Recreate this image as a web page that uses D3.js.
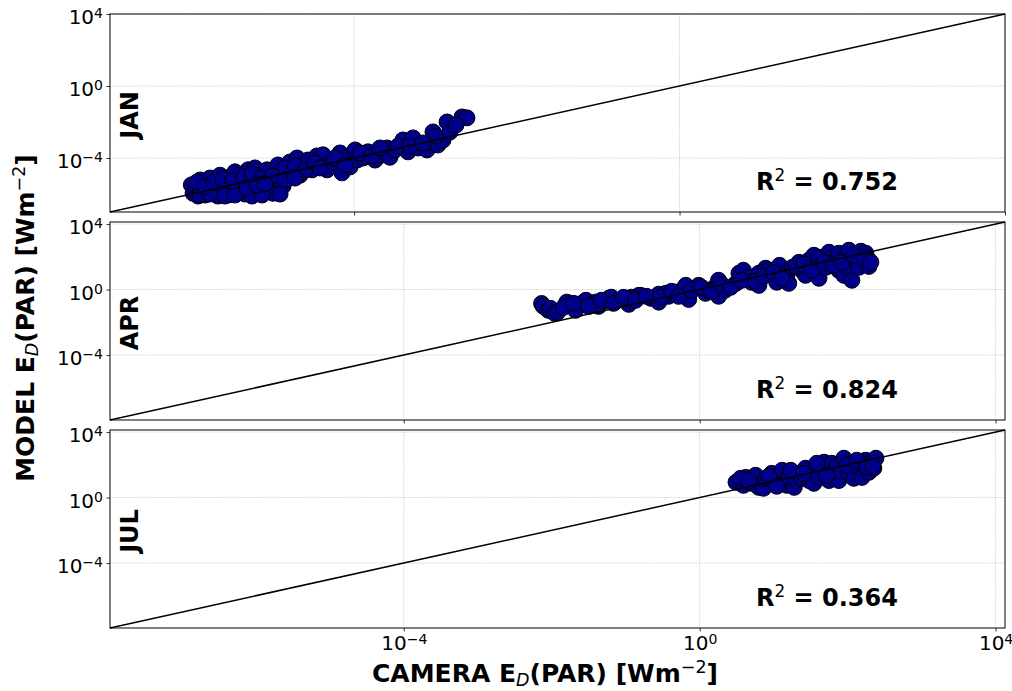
<!DOCTYPE html>
<html>
<head>
<meta charset="utf-8">
<script src="https://cdn.jsdelivr.net/npm/d3@7/dist/d3.min.js"></script>
<style>
  body { margin: 0; background: #ffffff; }
  svg text { font-family: "DejaVu Sans", sans-serif; }
</style>
</head>
<body>
<svg id="chart" width="1012" height="691"></svg>
<script>
// ---- data -------------------------------------------------------------
const months = ["JAN", "APR", "JUL"];
const rSquared = [0.752, 0.824, 0.364];
const tickValues = [1e-4, 1, 1e4];

// January: camera vs model downwelling PAR (W m^-2)
const janCamera = [
  1.0e-6, 1.05e-6, 1.14e-6, 1.21e-6, 1.28e-6, 1.39e-6, 1.47e-6, 1.56e-6, 1.69e-6, 1.79e-6,
  1.95e-6, 2.12e-6, 2.25e-6, 2.38e-6, 2.59e-6, 2.82e-6, 2.99e-6, 3.16e-6, 3.44e-6, 3.74e-6,
  3.96e-6, 4.19e-6, 4.56e-6, 4.97e-6, 5.26e-6, 5.73e-6, 6.05e-6, 6.59e-6, 6.98e-6, 7.60e-6,
  8.51e-6, 8.75e-6, 9.27e-6, 1.01e-5, 1.07e-5, 1.16e-5, 1.23e-5, 1.34e-5, 1.50e-5, 1.63e-5,
  1.77e-5, 1.99e-5, 2.16e-5, 2.36e-5, 2.72e-5, 3.04e-5, 3.50e-5, 4.15e-5, 4.65e-5, 5.36e-5,
  6.71e-5, 7.11e-5, 8.18e-5, 8.91e-5, 1.03e-4, 1.09e-4, 1.29e-4, 1.48e-4, 1.81e-4, 2.26e-4,
  2.54e-4, 2.76e-4, 3.18e-4, 3.99e-4, 4.60e-4, 5.30e-4, 6.11e-4, 7.87e-4, 8.57e-4, 9.33e-4,
  1.07e-3, 1.24e-3, 1.39e-3, 2.12e-3, 2.44e-3, 1.28e-6, 1.69e-6, 2.59e-6, 3.44e-6, 5.56e-6,
  7.38e-6, 1.23e-5, 1.17e-6, 1.47e-6, 1.90e-6, 2.45e-6, 3.25e-6, 4.44e-6, 5.56e-6, 7.38e-6,
  9.79e-6, 1.42e-5, 1.88e-5, 2.50e-5, 3.31e-5, 3.81e-5, 5.82e-5, 7.73e-5, 1.18e-4, 1.66e-4,
  2.08e-4, 3.47e-4, 4.86e-4, 7.03e-4, 1.02e-3, 1.51e-3, 1.79e-3, 4.83e-6, 6.41e-6, 8.04e-6,
  1.42e-5, 1.88e-5
];
const janModel = [
  3.2e-6, 1.1e-6, 2.2e-6, 7.7e-7, 6.0e-6, 1.7e-6, 8.8e-7, 3.6e-6, 7.7e-6, 1.3e-6,
  2.5e-6, 7.7e-7, 1.1e-5, 4.1e-6, 1.7e-6, 8.8e-7, 8.8e-6, 2.8e-6, 1.7e-5, 1.7e-6,
  1.1e-5, 5.3e-6, 1.0e-6, 2.2e-5, 2.8e-6, 7.7e-6, 2.8e-5, 1.3e-6, 4.6e-6, 1.3e-5,
  2.2e-5, 2.2e-6, 1.7e-6, 1.1e-6, 6.0e-6, 4.1e-5, 1.7e-5, 2.8e-6, 1.0e-5, 6.0e-5,
  2.2e-5, 1.0e-4, 1.1e-5, 4.1e-5, 7.7e-5, 2.2e-5, 1.3e-4, 1.5e-4, 2.2e-5, 6.0e-5,
  1.9e-4, 1.5e-5, 1.0e-4, 3.2e-5, 2.8e-4, 7.7e-5, 1.0e-4, 2.2e-4, 7.7e-5, 1.5e-4,
  3.6e-4, 1.1e-4, 2.8e-4, 1.0e-3, 2.2e-4, 1.3e-3, 3.6e-4, 2.8e-4, 7.7e-4, 2.8e-3,
  5.3e-4, 1.0e-3, 1.0e-2, 1.9e-2, 1.7e-2, 8.8e-7, 1.0e-6, 7.7e-7, 8.8e-7, 7.7e-7,
  8.8e-7, 1.0e-6, 4.6e-6, 2.5e-6, 4.6e-6, 6.8e-6, 5.3e-6, 8.8e-6, 1.3e-5, 7.7e-6,
  1.0e-5, 2.8e-5, 3.6e-5, 2.2e-5, 5.3e-5, 2.8e-5, 1.0e-4, 4.1e-5, 1.9e-4, 1.3e-4,
  3.6e-4, 4.6e-4, 4.6e-4, 6.8e-4, 1.7e-3, 2.8e-3, 6.8e-3, 2.2e-6, 3.2e-6, 3.6e-6,
  6.0e-6, 7.7e-6
];

// April
const aprCamera = [
  7.3e-3, 7.7e-3, 9.0e-3, 9.6e-3, 1.1e-2, 1.2e-2, 1.6e-2, 2.1e-2, 2.7e-2, 2.9e-2,
  3.9e-2, 4.0e-2, 4.3e-2, 5.3e-2, 5.9e-2, 6.4e-2, 8.0e-2, 0.11, 0.12, 0.15,
  0.16, 0.22, 0.25, 0.28, 0.28, 0.35, 0.38, 0.47, 0.57, 0.65,
  0.71, 0.71, 0.88, 0.97, 1.2, 1.3, 1.6, 1.8, 1.8, 2.2,
  3.1, 3.4, 3.9, 4.6, 5.0, 6.3, 6.3, 7.8, 8.6, 11,
  12, 15, 15, 16, 18, 22, 24, 27, 30, 35,
  41, 41, 41, 45, 51, 56, 61, 69, 76, 76,
  89, 94, 94, 104, 114, 142, 142, 151, 176, 194,
  194, 1.44e-2, 1.97e-2, 3.14e-2, 4.71e-2, 6.84e-2, 9.35e-2, 0.136, 0.191, 0.296,
  0.417, 0.519, 0.778, 1.06, 1.45, 1.98, 2.62, 3.70, 5.71, 7.34,
  10.0, 12.9, 19.9, 25.5, 32.7, 47.6, 65.0, 83.4, 121, 166,
  206
];
const aprModel = [
  0.14, 9.4e-2, 5.4e-2, 7.1e-2, 3.5e-2, 4.1e-2, 0.17, 5.4e-2, 0.17, 0.22,
  0.17, 0.14, 9.4e-2, 0.22, 0.29, 0.34, 0.22, 0.125, 0.34, 0.44,
  0.44, 0.29, 0.34, 0.52, 0.17, 0.59, 0.39, 0.68, 0.90, 1.8,
  0.44, 0.25, 1.2, 1.8, 0.59, 0.90, 1.4, 3.7, 0.39, 0.90,
  2.4, 9.9, 15, 5.6, 2.8, 9.9, 1.8, 20, 15, 2.8,
  30, 9.9, 5.6, 2.4, 23, 46, 15, 7.4, 62, 124,
  94, 15, 4.9, 26, 23, 190, 94, 62, 165, 15,
  7.4, 94, 26, 252, 3.7, 94, 23, 219, 165, 62,
  26, 8.2e-2, 0.144, 9.4e-2, 0.22, 0.144, 0.335, 0.22, 0.385, 0.335,
  0.78, 0.385, 0.90, 1.37, 0.78, 2.09, 1.37, 3.67, 3.19, 6.46,
  11.3, 4.87, 26.4, 35.0, 15.0, 46.4, 30.4, 46.4, 124, 81.5,
  46.4
];

// July
const julCamera = [
  3.1, 3.9, 4.2, 5.0, 5.7, 6.3, 7.3, 7.8, 9.4, 10,
  12, 13, 15, 16, 19, 20, 22, 24, 27, 30,
  33, 35, 37, 41, 48, 51, 56, 61, 65, 71,
  76, 83, 89, 104, 114, 121, 142, 156, 166, 176,
  194, 212, 226, 241, 3.58, 4.60, 8.57, 11.0, 17.0, 25.5,
  38.3, 52.3, 97.5, 133, 182, 219
];
const julModel = [
  8.6, 5.6, 17, 7.4, 23, 4.2, 3.7, 15, 30, 11,
  7.4, 46, 5.6, 17, 4.2, 11, 30, 15, 62, 11,
  35, 7.4, 71, 17, 143, 46, 11, 124, 23, 81,
  11, 35, 252, 30, 124, 15, 62, 17, 94, 190,
  35, 143, 62, 252, 15, 9.9, 19.9, 4.9, 46, 30,
  124, 23, 94, 190, 71, 81
];

// ---- layout -------------------------------------------------------------
const plotLeft = 110, plotRight = 1005, plotTop = 14;
const panelH = 198, panelGap = 10;
const plotW = plotRight - plotLeft;
const panelDomains = [[1e-7, 1e4], [1.07e-8, 1.34e4], [1.07e-8, 1.34e4]];
const cameraSeries = [janCamera, aprCamera, julCamera];
const modelSeries = [janModel, aprModel, julModel];

const svg = d3.select("#chart");
svg.append("rect").attr("width", 1012).attr("height", 691).attr("fill", "#ffffff");

const minus = "\u2212";
function powerLabel(sel, v, supSize, raise) {
  const e = Math.round(Math.log10(v));
  sel.text(null);
  sel.append("tspan").text("10");
  sel.append("tspan").attr("font-size", supSize).attr("dy", -raise)
     .text(e < 0 ? minus + (-e) : String(e));
}

months.forEach((month, i) => {
  const top = plotTop + i * (panelH + panelGap);
  const dom = panelDomains[i];
  const g = svg.append("g").attr("transform", `translate(${plotLeft},${top})`);
  const x = d3.scaleLog().domain(dom).range([0, plotW]);
  const y = d3.scaleLog().domain(dom).range([panelH, 0]);
  const ticks = tickValues.filter(v => v >= dom[0] && v <= dom[1] * 1.0001);

  // dotted grid
  const grid = g.append("g").attr("class", "grid");
  grid.selectAll("line.gx").data(ticks).join("line").attr("class", "gx")
    .attr("x1", d => x(d)).attr("x2", d => x(d)).attr("y1", 0).attr("y2", panelH);
  grid.selectAll("line.gy").data(ticks).join("line").attr("class", "gy")
    .attr("y1", d => y(d)).attr("y2", d => y(d)).attr("x1", 0).attr("x2", plotW);
  grid.selectAll("line").attr("stroke", "#b0b0b0").attr("stroke-width", 0.8)
    .attr("stroke-dasharray", "0.8,1.3");

  // scatter
  const pts = cameraSeries[i].map((c, k) => ({ c, m: modelSeries[i][k] }));
  g.append("g").selectAll("circle").data(pts).join("circle")
    .attr("cx", d => x(d.c)).attr("cy", d => y(d.m)).attr("r", 8)
    .attr("fill", "#00008b").attr("stroke", "#000000").attr("stroke-width", 1);

  // 1:1 line
  const line = d3.line().x(d => x(d[0])).y(d => y(d[1]));
  g.append("path").datum([[dom[0], dom[0]], [dom[1], dom[1]]])
    .attr("d", line).attr("fill", "none").attr("stroke", "#000000").attr("stroke-width", 1.5);

  // frame
  g.append("rect").attr("width", plotW).attr("height", panelH)
    .attr("fill", "none").attr("stroke", "#000000").attr("stroke-width", 1);

  // left axis
  const ya = g.append("g").call(d3.axisLeft(y).tickValues(ticks).tickSize(3.5).tickPadding(3.5));
  ya.attr("font-size", 20).attr("font-family", "DejaVu Sans");
  ya.select(".domain").remove();
  ya.selectAll(".tick line").attr("stroke", "#000").attr("stroke-width", 0.8);
  ya.selectAll(".tick text").attr("fill", "#000").attr("dy", 9.5)
    .each(function (d) { powerLabel(d3.select(this), d, 14, 6); });

  // bottom axis (labels only on the last panel)
  const xa = g.append("g").attr("transform", `translate(0,${panelH})`)
    .call(d3.axisBottom(x).tickValues(ticks).tickSize(3.5).tickPadding(3.5));
  xa.attr("font-size", 20).attr("font-family", "DejaVu Sans");
  xa.select(".domain").remove();
  xa.selectAll(".tick line").attr("stroke", "#000").attr("stroke-width", 0.8);
  if (i === months.length - 1) {
    xa.selectAll(".tick text").attr("fill", "#000").attr("y", 0).attr("dy", 22)
      .each(function (d) { powerLabel(d3.select(this), d, 14, 6); });
  } else {
    xa.selectAll(".tick text").remove();
  }

  // month label
  svg.append("text")
    .attr("transform", `translate(${plotLeft + 27.5},${top + 101}) rotate(-90)`)
    .attr("text-anchor", "middle").attr("font-size", 24).attr("font-weight", "bold")
    .text(month);

  // R^2 annotation
  const rt = svg.append("text").attr("x", 756).attr("y", top + 176)
    .attr("font-size", 24).attr("font-weight", "bold");
  rt.append("tspan").text("R");
  rt.append("tspan").attr("font-size", 16.8).attr("font-weight", "normal").attr("dy", -8.8).text("2");
  rt.append("tspan").attr("dy", 8.8).text("\u00a0=\u00a0" + rSquared[i].toFixed(3));
});

// axis titles with sub/superscripts
function irradianceLabel(sel, prefix) {
  sel.attr("font-size", 25).attr("font-weight", "bold").attr("text-anchor", "middle");
  sel.append("tspan").text(prefix + " E");
  sel.append("tspan").attr("font-size", 17.5).attr("font-weight", "normal")
     .attr("font-style", "italic").attr("dy", 4).text("D");
  sel.append("tspan").attr("dy", -4).text("(PAR) [Wm");
  sel.append("tspan").attr("font-size", 17.5).attr("font-weight", "normal")
     .attr("dy", -9.5).text(minus + "2");
  sel.append("tspan").attr("dy", 9.5).text("]");
}
irradianceLabel(svg.append("text").attr("x", 545).attr("y", 682), "CAMERA");
irradianceLabel(svg.append("text").attr("transform", "translate(34,318) rotate(-90)"), "MODEL");
</script>
</body>
</html>
